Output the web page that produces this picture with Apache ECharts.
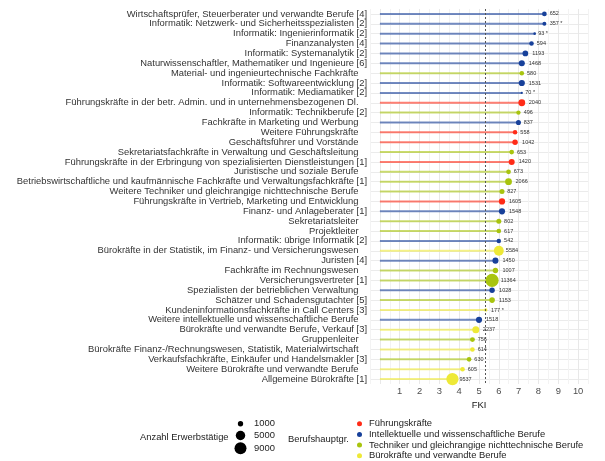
<!DOCTYPE html>
<html>
<head>
<meta charset="utf-8">
<script src="https://cdn.jsdelivr.net/npm/echarts@6/dist/echarts.min.js"></script>
<style>html,body{margin:0;padding:0;background:#fff}#c{width:605px;height:461px}</style>
</head>
<body>
<div id="c"></div>
<script>
const categories = [
  'Wirtschaftsprüfer, Steuerberater und verwandte Berufe [4]',
  'Informatik: Netzwerk- und Sicherheitsspezialisten [2]',
  'Informatik: Ingenierinformatik [2]',
  'Finanzanalysten [4]',
  'Informatik: Systemanalytik [2]',
  'Naturwissenschaftler, Mathematiker und Ingenieure [6]',
  'Material- und ingenieurtechnische Fachkräfte',
  'Informatik: Softwareentwicklung [2]',
  'Informatik: Mediamatiker [2]',
  'Führungskräfte in der betr. Admin. und in unternehmensbezogenen Dl.',
  'Informatik: Technikberufe [2]',
  'Fachkräfte in Marketing und Werbung',
  'Weitere Führungskräfte',
  'Geschäftsführer und Vorstände',
  'Sekretariatsfachkräfte in Verwaltung und Geschäftsleitung',
  'Führungskräfte in der Erbringung von spezialisierten Dienstleistungen [1]',
  'Juristische und soziale Berufe',
  'Betriebswirtschaftliche und kaufmännische Fachkräfte und Verwaltungsfachkräfte [1]',
  'Weitere Techniker und gleichrangige nichttechnische Berufe',
  'Führungskräfte in Vertrieb, Marketing und Entwicklung',
  'Finanz- und Anlageberater [1]',
  'Sekretariatsleiter',
  'Projektleiter',
  'Informatik: übrige Informatik [2]',
  'Bürokräfte in der Statistik, im Finanz- und Versicherungswesen',
  'Juristen [4]',
  'Fachkräfte im Rechnungswesen',
  'Versicherungsvertreter [1]',
  'Spezialisten der betrieblichen Verwaltung',
  'Schätzer und Schadensgutachter [5]',
  'Kundeninformationsfachkräfte in Call Centers [3]',
  'Weitere intellektuelle und wissenschaftliche Berufe',
  'Bürokräfte und verwandte Berufe, Verkauf [3]',
  'Gruppenleiter',
  'Bürokräfte Finanz-/Rechnungswesen, Statistik, Materialwirtschaft',
  'Verkaufsfachkräfte, Einkäufer und Handelsmakler [3]',
  'Weitere Bürokräfte und verwandte Berufe',
  'Allgemeine Bürokräfte [1]'
];
const fki = [8.30, 8.30, 7.81, 7.65, 7.34, 7.16, 7.16, 7.16, 7.16, 7.16, 6.99, 6.99, 6.82, 6.82, 6.65, 6.65, 6.49, 6.49, 6.16, 6.16, 6.16, 6.00, 6.00, 6.00, 6.00, 5.83, 5.83, 5.66, 5.66, 5.66, 5.34, 5.00, 4.84, 4.67, 4.67, 4.50, 4.17, 3.66];
const counts = [652, 357, 93, 594, 1193, 1468, 580, 1531, 70, 2040, 496, 837, 558, 1042, 653, 1420, 673, 2066, 827, 1605, 1548, 802, 617, 542, 5584, 1450, 1007, 11364, 1028, 1153, 177, 1518, 2237, 756, 614, 630, 605, 9537];
const lowCase = [false, true, true, false, false, false, false, false, true, false, false, false, false, false, false, false, false, false, false, false, false, false, false, false, false, false, false, false, false, false, true, false, false, false, false, false, false, false];
const groups = [1, 1, 1, 1, 1, 1, 2, 1, 1, 0, 2, 1, 0, 0, 2, 0, 2, 2, 2, 0, 1, 2, 2, 1, 3, 1, 2, 2, 1, 2, 3, 1, 3, 2, 3, 2, 3, 3];
const groupNames = ['Führungskräfte', 'Intellektuelle und wissenschaftliche Berufe', 'Techniker und gleichrangige nichttechnische Berufe', 'Bürokräfte und verwandte Berufe'];
const groupColors = ['#FF2B17', '#17409A', '#A8C40E', '#EEE937'];
const meanFKI = 5.32;
const sizeLegendValues = [1000, 5000, 9000];
const xTickLabels = ['1', '2', '3', '4', '5', '6', '7', '8', '9', '10'];

const FONT = '"Liberation Sans", Arial, sans-serif';
const FS = 9.4;
const cMin = Math.min(...counts), cMax = Math.max(...counts);
function dotSize(n) {
  const s = 1 + 5 * Math.sqrt(Math.max(0, n - cMin) / (cMax - cMin));
  return 2.2 * s;
}

const scatterSeries = groupNames.map((name, g) => {
  const data = [];
  categories.forEach((cat, i) => {
    if (groups[i] !== g) return;
    const txt = String(counts[i]) + (lowCase[i] ? ' *' : '');
    data.push({
      value: [fki[i], cat, counts[i]],
      labelText: txt,
      label: { offset: [1.75 * String(counts[i]).length, 0] }
    });
  });
  return {
    name: name,
    type: 'scatter',
    z: 3,
    data: data,
    symbol: 'circle',
    symbolSize: v => dotSize(v[2]),
    itemStyle: { color: groupColors[g], opacity: 1 },
    label: {
      show: true,
      position: 'inside',
      align: 'left',
      verticalAlign: 'middle',
      fontSize: 5.5,
      fontFamily: FONT,
      color: '#333',
      formatter: p => p.data.labelText
    },
    emphasis: { disabled: true }
  };
});

const option = {
  animation: false,
  backgroundColor: '#fff',
  textStyle: { fontFamily: FONT },
  grid: { left: 370, right: 17, top: 9, bottom: 77, containLabel: false },
  xAxis: {
    type: 'value',
    min: -0.5, max: 10.5, interval: 0.5,
    axisLine: { show: false }, axisTick: { show: false },
    axisLabel: {
      fontSize: FS, color: '#4D4D4D', margin: 3, fontFamily: FONT,
      formatter: v => (Math.abs(v - Math.round(v)) < 1e-6 && xTickLabels.indexOf(String(Math.round(v))) >= 0) ? String(Math.round(v)) : '',
      showMinLabel: false, showMaxLabel: false
    },
    splitLine: { show: true, lineStyle: { color: ['#F3F3F3', '#E8E8E8'], width: 1 } },
    name: 'FKI', nameLocation: 'middle', nameGap: 13,
    nameTextStyle: { fontSize: FS, color: '#111', fontFamily: FONT }
  },
  yAxis: {
    type: 'category',
    data: categories,
    inverse: true,
    axisLine: { show: false }, axisTick: { show: false },
    axisLabel: {
      fontSize: FS, color: '#333', margin: 3, fontFamily: FONT, interval: 0,
      formatter: v => /\]$/.test(v) ? '{a|' + v + '}' : '{b|' + v + '}',
      rich: {
        a: { fontSize: FS, color: '#333', fontFamily: FONT },
        b: { fontSize: FS, color: '#333', fontFamily: FONT, padding: [0, 8.5, 0, 0] }
      }
    },
    splitLine: { show: true, alignWithLabel: true, interval: 0, lineStyle: { color: '#EBEBEB', width: 1 } }
  },
  legend: {
    orient: 'vertical',
    left: 357, top: 418.7, height: 80,
    padding: 0,
    itemWidth: 5, itemHeight: 5, itemGap: 0.7,
    icon: 'circle',
    data: groupNames,
    textStyle: { fontSize: FS, color: '#222', fontFamily: FONT, lineHeight: 10, padding: [0, 0, 0, 2] },
    selectedMode: false
  },
  graphic: [
    { type: 'text', left: 140, top: 433, style: { text: 'Anzahl Erwerbstätige', fontSize: FS, fill: '#222', fontFamily: FONT } },
    { type: 'text', left: 288, top: 434.5, style: { text: 'Berufshauptgr.', fontSize: FS, fill: '#222', fontFamily: FONT } }
  ].concat(sizeLegendValues.flatMap((v, k) => {
    const yc = [423.7, 435.5, 448.3][k];
    return [
      { type: 'circle', shape: { cx: 240.5, cy: yc, r: dotSize(v) / 2 }, style: { fill: '#000' } },
      { type: 'text', x: 254, y: yc, style: { text: String(v), fontSize: FS, fill: '#222', fontFamily: FONT, verticalAlign: 'middle' } }
    ];
  })),
  series: [
    {
      type: 'bar',
      name: 'lines',
      barWidth: 2,
      z: 2,
      data: fki.map((v, i) => ({ value: v, itemStyle: { color: groupColors[groups[i]], opacity: 0.6 } })),
      emphasis: { disabled: true },
      markLine: {
        silent: true,
        symbol: 'none',
        label: { show: false },
        lineStyle: { color: '#555', type: [2, 2], width: 1 },
        data: [{ xAxis: meanFKI }]
      }
    }
  ].concat(scatterSeries)
};

const chart = echarts.init(document.getElementById('c'), null, { renderer: 'canvas' });
chart.setOption(option);
</script>
</body>
</html>
